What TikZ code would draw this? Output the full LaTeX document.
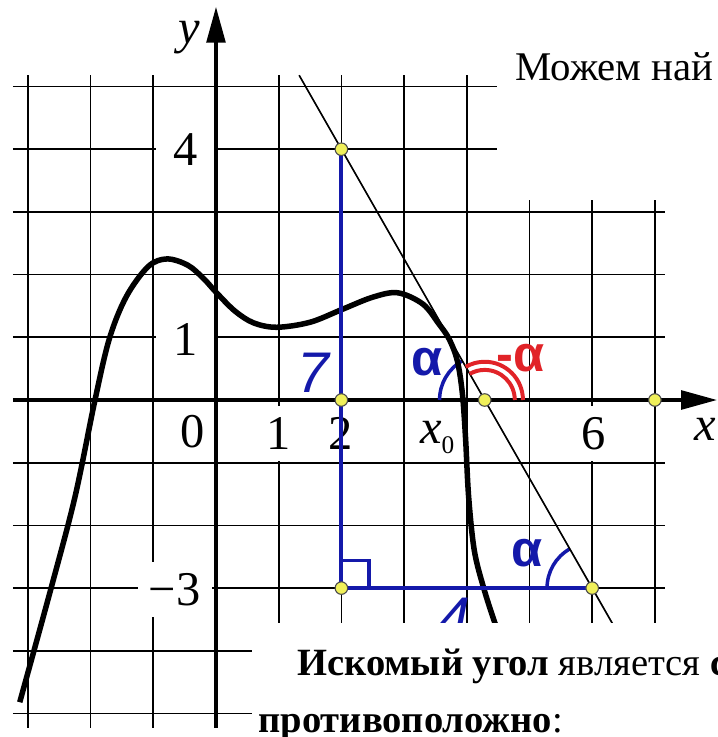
\documentclass[tikz,border=0pt]{standalone}
\usepackage{fontspec}
\setmainfont{Liberation Serif}
\newfontfamily\arialf{Liberation Sans}
\usetikzlibrary{arrows.meta}
\definecolor{myblue}{RGB}{20,25,170}
\definecolor{myred}{RGB}{225,35,40}
\definecolor{myyellow}{RGB}{240,240,90}
\begin{document}
\begin{tikzpicture}[
  gridl/.style={black, line width=0.8pt},
  axisl/.style={black, line width=1.4pt, -{Triangle[length=0.57cm,width=0.3cm]}},
  curvel/.style={black, line width=2.5pt, line join=round},
  tanl/.style={black, line width=0.75pt},
  bluel/.style={myblue, line width=1.9pt},
  bluearc/.style={myblue, line width=1.6pt},
  redarc/.style={myred, line width=1.8pt},
  lab/.style={fill=white, inner sep=0pt, minimum width=0.92cm, minimum height=0.88cm, font=\fontsize{22}{22}\selectfont},
  ydot/.style={circle, fill=myyellow, draw=black!70, line width=0.5pt, inner sep=0pt, minimum size=0.2cm},
  greek/.style={inner sep=0pt, font=\arialf\bfseries\fontsize{23}{23}\selectfont},
  bnum/.style={inner sep=0pt, myblue, font=\arialf\itshape\fontsize{26}{26}\selectfont},
  axname/.style={inner sep=0pt, anchor=base, font=\itshape\fontsize{22}{22}\selectfont}
]
\useasboundingbox (-3.445,-5.375) rectangle (8.006,6.380);
% grid
\foreach \x in {-3,...,7} \draw[gridl] (\x,-5.23) -- (\x,5.18);
\foreach \y in {-5,...,5} \draw[gridl] (-3.24,\y) -- (7.16,\y);
% axis number labels
\node[lab] (l4) at (-0.49,4.0) {4};
\node[lab] (l1y) at (-0.49,0.97) {1};
\node[lab, minimum width=1.18cm] (lm3) at (-0.66,-3.02) {−3};
\node[lab] (l0) at (-0.38,-0.51) {0};
\node[lab] (l1x) at (1.0,-0.53) {1};
\node[lab] (l2) at (1.98,-0.53) {2};
\node[lab] (l6) at (6.03,-0.54) {6};
\node[inner sep=0pt, anchor=base west, font=\fontsize{22}{22}\selectfont] (lx0) at (3.25,-0.69) {\itshape x\raisebox{-4.5pt}{\upshape\fontsize{11.5}{11.5}\selectfont 0}};
% axes
\coordinate (xs) at (-3.24,0);
\coordinate (xe) at (7.99,0);
\coordinate (ys) at (0,-5.23);
\coordinate (ye) at (0,6.27);
\draw[axisl] (xs) -- (xe);
\draw[axisl] (ys) -- (ye);
\node[axname] (xn) at (7.81,-0.64) {x};
\node[axname] (yn) at (-0.43,5.68) {y};
% key points
\coordinate (A) at (2,4);
\coordinate (B) at (2,0);
\coordinate (C) at (2,-3);
\coordinate (D) at (6,-3);
\coordinate (X) at (4.2857,0);
\coordinate (E) at (7,0);
\coordinate (T1) at (1.326,5.18);
\coordinate (T2) at (6.6,-4.05);
% blue angle arcs
\draw[bluearc] (X) ++(180:0.72) arc[start angle=180, end angle=119.745, radius=0.72];
\draw[bluearc] (D) ++(180:0.72) arc[start angle=180, end angle=119.745, radius=0.72];
% tangent line
\draw[tanl] (T1) -- (T2);
% graph of function
\draw[curvel] plot[smooth, tension=0.55] coordinates {(-3.13,-4.82) (-2.63,-3.0) (-2.25,-1.55) (-1.93,0) (-1.7,0.98) (-1.43,1.65) (-1.08,2.13) (-0.78,2.25) (-0.45,2.15) (-0.2,1.94) (0,1.72) (0.3,1.42) (0.6,1.23) (0.97,1.16) (1.5,1.24) (2,1.44) (2.5,1.64) (2.9,1.71) (3.3,1.53) (3.55,1.22) (3.72,0.97) (3.85,0.62) (3.93,0.1) (3.98,-0.6) (4.03,-1.55) (4.12,-2.4) (4.27,-3.0) (4.45,-3.56) (4.6,-3.95)};
% blue triangle legs
\draw[bluel] (A) -- (C) -- (D);
\draw[myblue, line width=1.4pt] (C) ++(0,0.44) -- ++(0.44,0) -- ++(0,-0.44);
% red arcs
\draw[redarc] (X) ++(0:0.48) arc[start angle=0, end angle=119.745, radius=0.48];
\draw[redarc] (X) ++(0:0.61) arc[start angle=0, end angle=119.745, radius=0.61];
% yellow points
\foreach \p in {A,B,C,D,X,E} \node[ydot] at (\p) {};
% labels
\node[greek, myblue] (a1) at (3.36,0.61) {α};
\node[greek, myblue] (a2) at (4.96,-2.44) {α};
\node[greek, myred] (a3) at (4.86,0.67) {-α};
\node[bnum] (n7) at (1.56,0.44) {7};
\node[bnum] (n4) at (3.81,-3.47) {4};
% white text areas
\fill[white] (4.48,3.19) rectangle (8.1,6.5);
\fill[white] (0.57,-3.556) rectangle (8.1,-5.5);
% texts
\node[anchor=base west, inner sep=0pt, font=\fontsize{18.5}{22}\selectfont] (t1) at (4.77,5.10) {Можем най};
\node[anchor=base west, inner sep=0pt, font=\fontsize{17.5}{21}\selectfont] (t2) at (1.29,-4.39) {\textbf{Искомый угол} является \textbf{с}};
\node[anchor=base west, inner sep=0pt, font=\fontsize{17.5}{21}\selectfont] (t3) at (0.67,-5.30) {\textbf{противоположно}:};
\end{tikzpicture}
\end{document}
